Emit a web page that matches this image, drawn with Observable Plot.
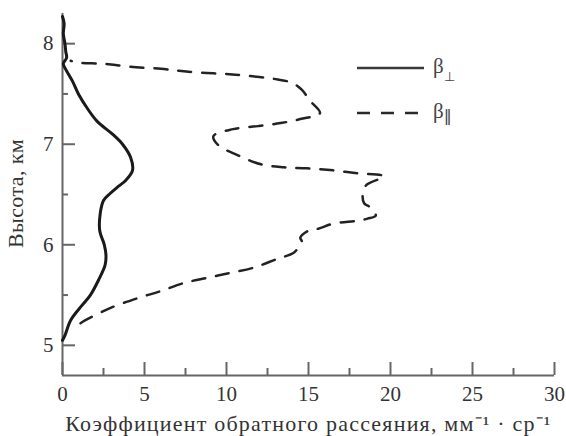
<!DOCTYPE html>
<html><head><meta charset="utf-8">
<script src="https://cdn.jsdelivr.net/npm/d3@7"></script>
<script src="https://cdn.jsdelivr.net/npm/@observablehq/plot@0.6"></script>
<style>
body{margin:0;background:#fff;}
#wrap{position:relative;width:566px;height:436px;}
#legend{position:absolute;left:350px;top:45px;}
</style></head><body>
<div id="wrap"><div id="chart"></div>
<svg id="legend" width="130" height="90" font-family="Liberation Serif, serif" fill="#444">
  <line x1="7" x2="74" y1="23" y2="23" stroke="#3a3a3a" stroke-width="2.5"/>
  <text x="83" y="28" font-size="21">β<tspan font-size="13" dy="8">⊥</tspan></text>
  <line x1="7" x2="69" y1="68" y2="68" stroke="#2a2a2a" stroke-width="2.5" stroke-dasharray="13,11"/>
  <text x="83" y="73" font-size="21">β<tspan font-size="16" dy="3" font-family="DejaVu Sans">‖</tspan></text>
</svg>
</div>
<script>
// β⊥ (solid), height km and coefficient
const heightPerp = [5.05, 5.1, 5.25, 5.4, 5.5, 5.65, 5.8, 5.9, 6.0, 6.14, 6.31, 6.44, 6.51, 6.58, 6.64, 6.74, 6.87, 7.0, 7.1, 7.23, 7.36, 7.5, 7.63, 7.75, 7.8, 7.86, 7.92, 8.0, 8.1, 8.2, 8.27];
const betaPerp   = [0, 0.15, 0.5, 1.2, 1.7, 2.2, 2.6, 2.65, 2.55, 2.27, 2.3, 2.5, 2.9, 3.4, 3.85, 4.27, 4.15, 3.66, 3.05, 2.1, 1.5, 0.97, 0.6, 0.18, 0.05, 0.25, 0.2, 0.15, 0.05, 0.1, 0];
// β‖ (dashed)
const heightPar = [5.22, 5.25, 5.37, 5.47, 5.54, 5.62, 5.67, 5.72, 5.77, 5.86, 5.92, 5.98, 6.03, 6.07, 6.14, 6.16, 6.21, 6.24, 6.26, 6.29, 6.37, 6.41, 6.49, 6.59, 6.68, 6.71, 6.74, 6.76, 6.77, 6.8, 6.89, 6.99, 7.08, 7.15, 7.18, 7.21, 7.25, 7.31, 7.43, 7.54, 7.61, 7.65, 7.68, 7.70, 7.71, 7.73, 7.75, 7.77, 7.8, 7.81, 7.83];
const betaPar   = [1.1, 1.4, 2.9, 4.6, 6.0, 7.4, 8.8, 10.2, 11.6, 13.1, 14.1, 14.4, 14.6, 14.5, 15.0, 15.6, 16.5, 18.0, 18.6, 19.1, 18.8, 18.4, 18.3, 18.5, 19.6, 18.0, 16.5, 14.9, 13.5, 12.1, 10.7, 9.5, 9.2, 10.4, 11.9, 13.3, 14.5, 15.7, 15.1, 14.6, 14.0, 12.9, 11.3, 9.9, 8.5, 7.1, 6.0, 4.1, 2.5, 1.0, 0.5];
const xTicks = [0, 5, 10, 15, 20, 25, 30];
const xMinor = [2.5, 7.5, 12.5, 17.5, 22.5, 27.5];
const yTicks = [5, 6, 7, 8];
const yMinor = [5.5, 6.5, 7.5];
const xLabel = "Коэффициент обратного рассеяния, мм⁻¹ · ср⁻¹";
const yLabel = "Высота, км";

const perp = heightPerp.map((h, i) => ({h, v: betaPerp[i]}));
const par = heightPar.map((h, i) => ({h, v: betaPar[i]}));

const axisColor = "#666";
const fmt = d => String(d);
const chart = Plot.plot({
  width: 566, height: 436,
  marginTop: 13, marginBottom: 61, marginLeft: 62, marginRight: 12,
  style: {fontFamily: "Liberation Serif, serif", fontSize: "21px", color: "#333", background: "white"},
  x: {domain: [0, 30]},
  y: {domain: [4.7, 8.3]},
  marks: [
    Plot.axisX(xTicks, {tickSize: -13, fill: "none", stroke: axisColor, strokeWidth: 2, label: null}),
    Plot.axisX(xMinor, {tickSize: -7, fill: "none", stroke: axisColor, strokeWidth: 2, label: null}),
    Plot.axisX(xTicks, {tickSize: 0, tickPadding: 11, label: null, fill: "#333", fontSize: 21, tickFormat: fmt}),
    Plot.axisY(yTicks, {tickSize: -13, fill: "none", stroke: axisColor, strokeWidth: 2, label: null}),
    Plot.axisY(yMinor, {tickSize: -6, fill: "none", stroke: axisColor, strokeWidth: 2, label: null}),
    Plot.axisY(yTicks, {tickSize: 0, tickPadding: 9, label: null, fill: "#333", fontSize: 21, tickFormat: fmt}),
    Plot.ruleX([0], {stroke: axisColor, strokeWidth: 2}),
    Plot.ruleY([4.7], {stroke: axisColor, strokeWidth: 2}),
    Plot.line(par, {x: "v", y: "h", stroke: "#222", strokeWidth: 2.5, strokeDasharray: "13,11", curve: "catmull-rom"}),
    Plot.line(perp, {x: "v", y: "h", stroke: "#1a1a1a", strokeWidth: 3, curve: "catmull-rom"}),
    Plot.text([xLabel], {frameAnchor: "bottom", dy: 48, lineAnchor: "middle", textAnchor: "middle", fill: "#333", fontSize: 22}),
    Plot.text([yLabel], {frameAnchor: "left", rotate: -90, textAnchor: "middle", dx: -47, dy: -1, fill: "#333", fontSize: 22})
  ]
});
// widen letter spacing of the axis titles to match the reference typesetting
d3.select(chart).selectAll("text").filter(function() { return this.textContent === xLabel; }).style("letter-spacing", "1.2px");
d3.select(chart).selectAll("text").filter(function() { return this.textContent === yLabel; }).style("letter-spacing", "0.4px");
document.getElementById("chart").appendChild(chart);
</script>
</body></html>
